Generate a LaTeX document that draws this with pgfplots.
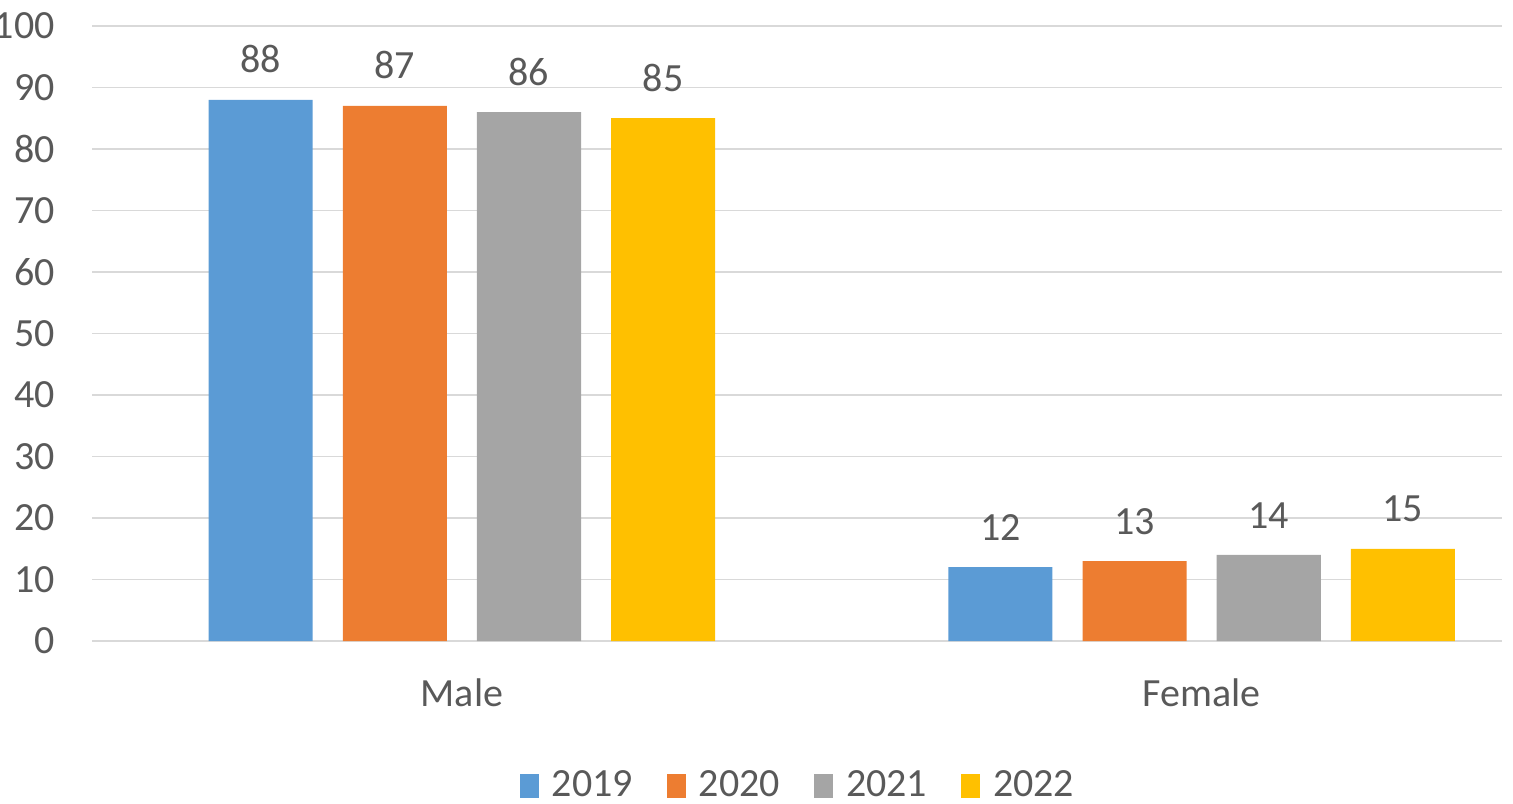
\documentclass[border=0pt]{standalone}
\usepackage{fontspec}
\setmainfont{Carlito}
\usepackage{pgfplots}
\pgfplotsset{compat=1.18}
\definecolor{cBlue}{HTML}{5B9BD5}
\definecolor{cOrange}{HTML}{ED7D31}
\definecolor{cGray}{HTML}{A5A5A5}
\definecolor{cGold}{HTML}{FFC000}
\definecolor{gridc}{HTML}{D9D9D9}
\definecolor{txt}{HTML}{595959}
\newcommand{\cf}{\fontsize{12}{14}\selectfont}
\begin{document}
\begin{tikzpicture}
\begin{axis}[
  scale only axis,
  width=423pt, height=184.5pt,
  ybar, bar width=0.1407,
  xmin=-0.5, xmax=1.406,
  ymin=0, ymax=100,
  ytick={0,10,...,100},
  xtick={0,1}, xticklabels={Male,Female},
  axis x line*=bottom, axis y line*=left,
  x axis line style={draw=gridc, line width=0.5pt},
  y axis line style={draw=none},
  major tick length=0pt,
  ymajorgrids, grid style={draw=gridc, line width=0.5pt},
  /pgf/number format/assume math mode=true,
  yticklabel style={font=\cf, text=txt, anchor=east, inner sep=0pt, xshift=-11pt},
  xticklabel style={font=\cf, text=txt, anchor=north, inner sep=0pt, yshift=-11pt},
  nodes near coords,
  every node near coord/.append style={font=\cf, text=txt, anchor=south, inner sep=0pt, yshift=7.8pt},
  legend columns=4,
  legend style={at={(axis description cs:0.5,0)}, anchor=north, yshift=-38.6pt, draw=none, inner sep=0pt, font=\cf, text=txt,
    nodes={inner sep=0pt},
    /tikz/every odd column/.append style={column sep=3.9pt},
    /tikz/every even column/.append style={column sep=10.2pt}},
  legend image code/.code={\fill[#1] (0pt,-3.6pt) rectangle (5.7pt,3.6pt);},
]
\addplot[fill=cBlue, draw=none, bar shift=-0.272] coordinates {(0,88) (1,12)};
\addplot[fill=cOrange, draw=none, bar shift=-0.0907] coordinates {(0,87) (1,13)};
\addplot[fill=cGray, draw=none, bar shift=0.0907] coordinates {(0,86) (1,14)};
\addplot[fill=cGold, draw=none, bar shift=0.272] coordinates {(0,85) (1,15)};
\legend{2019,2020,2021,2022}
\end{axis}
\pgfresetboundingbox
\useasboundingbox (-27.6pt,-48.6pt) rectangle (426.3pt,192.3pt);
\end{tikzpicture}
\end{document}
